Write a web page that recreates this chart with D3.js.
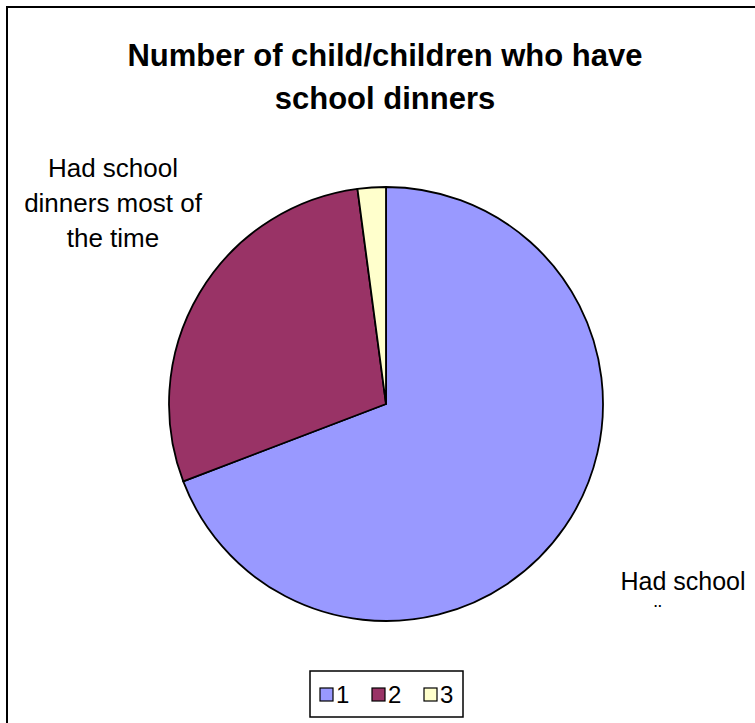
<!DOCTYPE html>
<html><head><meta charset="utf-8">
<script src="https://cdn.jsdelivr.net/npm/d3@7"></script>
<style>html,body{margin:0;padding:0;background:#fff;overflow:hidden}</style>
</head><body>
<script>
const categories = ["1", "2", "3"];
const values = [69.2, 28.7, 2.1];
const colors = ["#9999FF", "#993366", "#FFFFCC"];
const titleLines = ["Number of child/children who have", "school dinners"];
const sliceLabels = [["Had school", "\u00A8"], ["Had school", "dinners most of", "the time"], []];

const W = 755, H = 723;
const svg = d3.select("body").append("svg").attr("width", W).attr("height", H)
  .style("font-family", "Arial, 'Liberation Sans', sans-serif");

svg.append("rect").attr("x", 7).attr("y", 7).attr("width", 760).attr("height", 730)
  .attr("fill", "#fff").attr("stroke", "#000").attr("stroke-width", 2);

const title = svg.append("text").attr("text-anchor", "middle").attr("font-weight", "bold")
  .attr("font-size", 31).attr("fill", "#000");
titleLines.forEach((t, i) => title.append("tspan").attr("x", 385).attr("y", 66 + i * 43).text(t));

const cx = 386, cy = 404, r = 217;
const pie = d3.pie().sort(null).value(d => d)(values);
const arc = d3.arc().innerRadius(0).outerRadius(r);
const g = svg.append("g").attr("transform", `translate(${cx},${cy})`);
g.selectAll("path").data(pie).join("path")
  .attr("d", arc).attr("fill", (d, i) => colors[i])
  .attr("stroke", "#000").attr("stroke-width", 1.8).attr("stroke-linejoin", "round");

// labels
const lab1 = svg.append("text").attr("text-anchor", "middle").attr("font-size", 25).attr("fill", "#000");
lab1.append("tspan").attr("x", 683).attr("y", 590).text(sliceLabels[0][0]);
lab1.append("tspan").attr("x", 658).attr("y", 620).attr("font-size", 22).text(sliceLabels[0][1]);

const lab2 = svg.append("text").attr("text-anchor", "middle").attr("font-size", 26).attr("fill", "#000");
sliceLabels[1].forEach((t, i) => lab2.append("tspan").attr("x", 113).attr("y", 177 + i * 35).text(t));

// legend
const lg = svg.append("g");
lg.append("rect").attr("x", 310).attr("y", 671).attr("width", 153).attr("height", 46)
  .attr("fill", "#fff").attr("stroke", "#000").attr("stroke-width", 1.5);
const lx = [320, 372, 424];
categories.forEach((c, i) => {
  lg.append("rect").attr("x", lx[i]).attr("y", 688).attr("width", 13).attr("height", 13)
    .attr("fill", colors[i]).attr("stroke", "#000").attr("stroke-width", 1.2);
  lg.append("text").attr("x", lx[i] + 16).attr("y", 703).attr("font-size", 24).attr("fill", "#000").text(c);
});
</script>
</body></html>
